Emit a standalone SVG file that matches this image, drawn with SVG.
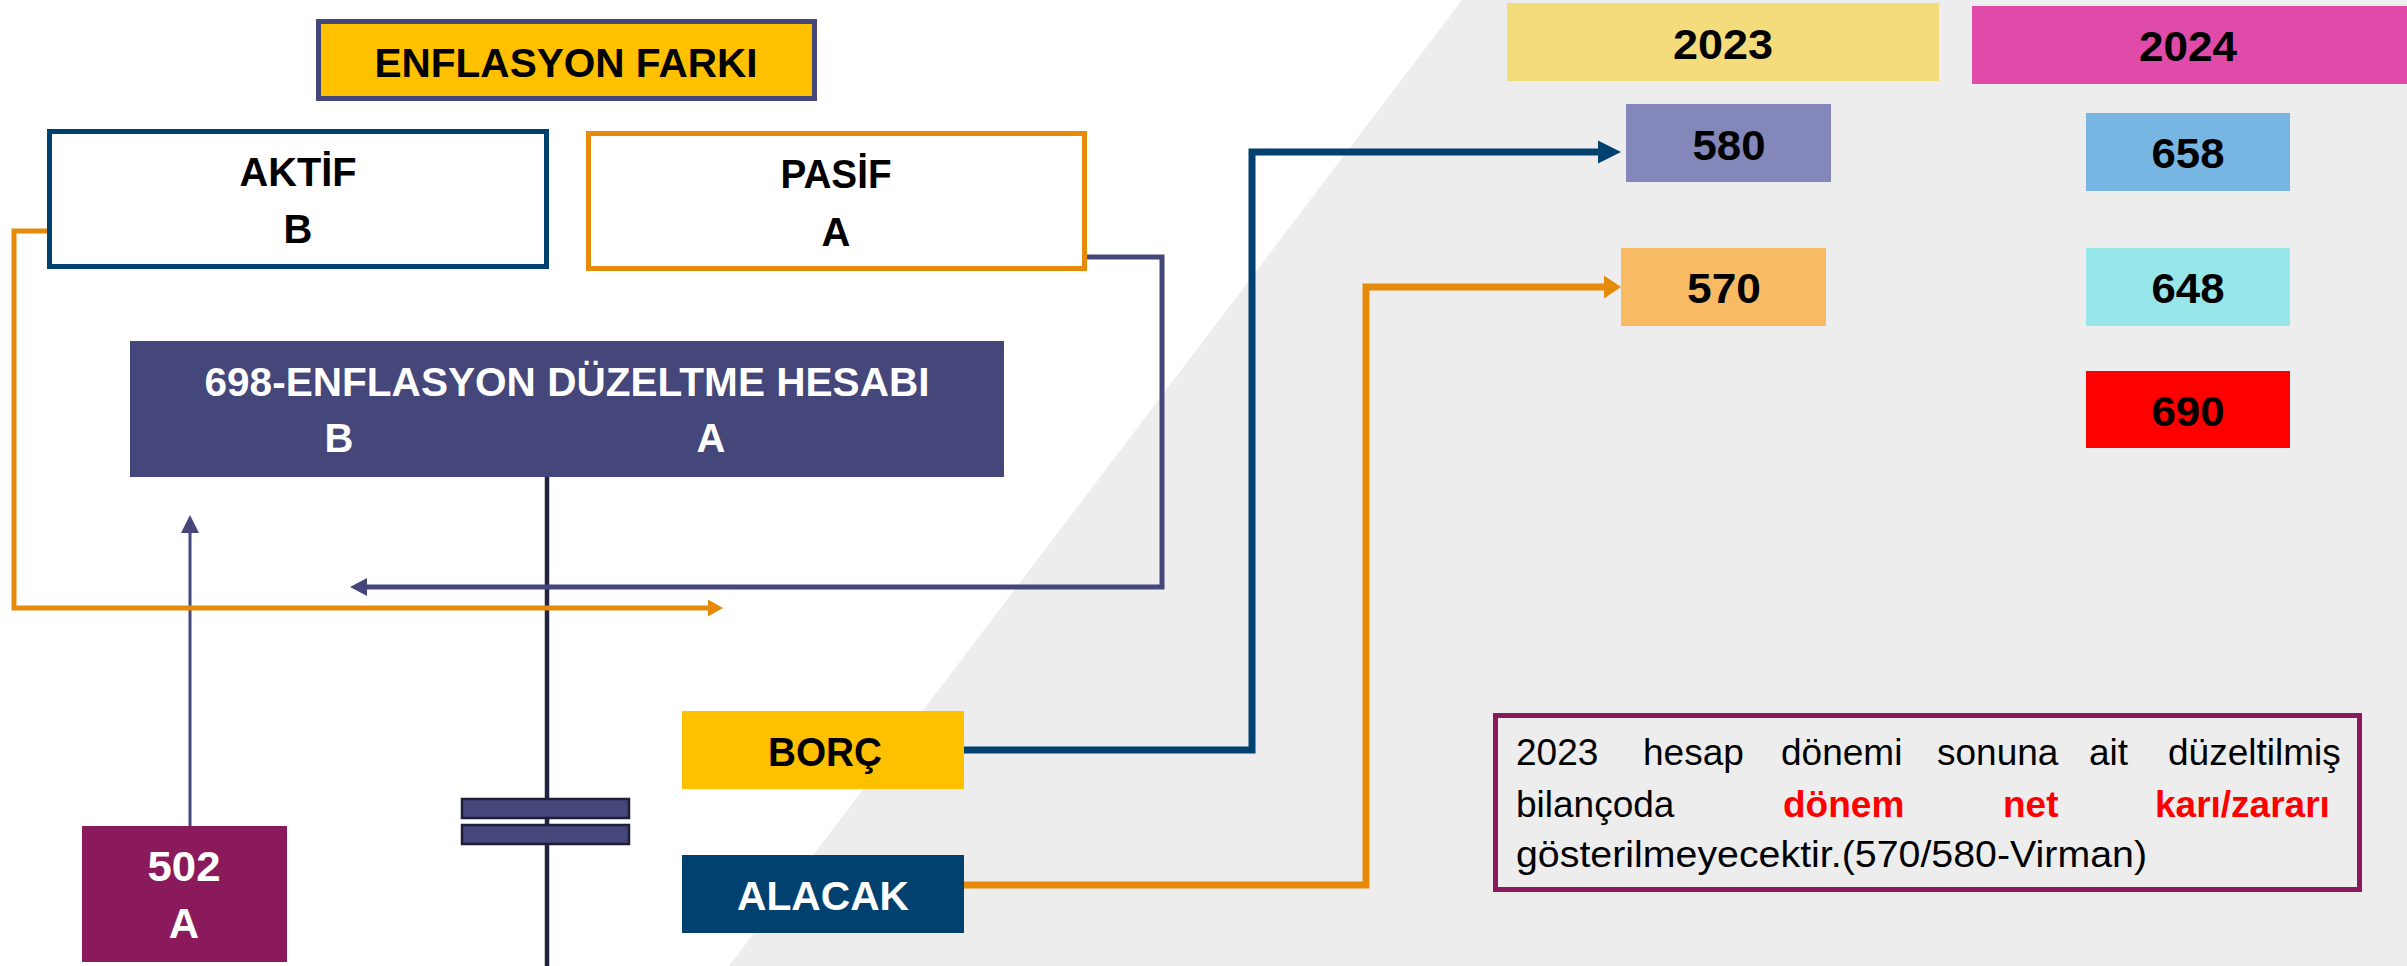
<svg xmlns="http://www.w3.org/2000/svg" width="2407" height="966" viewBox="0 0 2407 966">
<defs>
<style>
.lbl{font-family:"Liberation Sans",Arial,sans-serif;font-weight:bold;text-anchor:middle}
.blk{fill:#000}
.wht{fill:#fff}
.para{font-family:"Liberation Sans",Arial,sans-serif;font-size:37px;fill:#000}
.red{fill:#ff0000;font-weight:bold}
.conn{fill:none;stroke-linejoin:miter;stroke-linecap:butt}
</style>
<marker id="mBlue" markerUnits="userSpaceOnUse" markerWidth="23" markerHeight="23" refX="0" refY="11.5" orient="auto" overflow="visible"><path d="M0,0 L23,11.5 L0,23 z" fill="#004170"/></marker>
<marker id="mOrR" markerUnits="userSpaceOnUse" markerWidth="17" markerHeight="23" refX="0" refY="11.5" orient="auto" overflow="visible"><path d="M0,0 L17,11.5 L0,23 z" fill="#E68A0A"/></marker>
<marker id="mOrL" markerUnits="userSpaceOnUse" markerWidth="15" markerHeight="17" refX="0" refY="8.5" orient="auto" overflow="visible"><path d="M0,0 L15,8.5 L0,17 z" fill="#E68A0A"/></marker>
<marker id="mPur" markerUnits="userSpaceOnUse" markerWidth="17" markerHeight="18" refX="0" refY="9" orient="auto" overflow="visible"><path d="M0,0 L17,9 L0,18 z" fill="#45467A"/></marker>
<marker id="mPurS" markerUnits="userSpaceOnUse" markerWidth="18" markerHeight="18" refX="0" refY="9" orient="auto" overflow="visible"><path d="M0,0 L18,9 L0,18 z" fill="#45467A"/></marker>
</defs>
<rect width="2407" height="966" fill="#ffffff"/>
<polygon points="1462,0 2407,0 2407,966 729,966" fill="#ededed"/>

<g id="connectors">
<path class="conn" d="M190,826 V533" stroke="#45467A" stroke-width="3" marker-end="url(#mPurS)"/>
<path class="conn" d="M964,750 H1252 V152 H1598" stroke="#004170" stroke-width="7" marker-end="url(#mBlue)"/>
<path class="conn" d="M964,885 H1366 V287 H1604" stroke="#E68A0A" stroke-width="7" marker-end="url(#mOrR)"/>
</g>

<g id="t-account">
<line x1="547" y1="477" x2="547" y2="966" stroke="#23233F" stroke-width="4.5"/>
<rect x="462" y="799" width="167" height="19" fill="#45467A" stroke="#1E1E3A" stroke-width="2.5"/>
<rect x="462" y="825" width="167" height="19" fill="#45467A" stroke="#1E1E3A" stroke-width="2.5"/>
</g>

<g id="connectors-ledger">
<path class="conn" d="M1087,257 H1162 V587 H367" stroke="#45467A" stroke-width="5" marker-end="url(#mPur)"/>
<path class="conn" d="M47,231 H14 V608 H708" stroke="#E68A0A" stroke-width="5" marker-end="url(#mOrL)"/>
</g>

<g id="enflasyon-farki">
<rect x="318.5" y="21.5" width="496" height="77" fill="#FFC000" stroke="#45467A" stroke-width="5"/>
<text class="lbl blk" x="566" y="77" font-size="40" textLength="383" lengthAdjust="spacingAndGlyphs">ENFLASYON FARKI</text>
</g>

<g id="aktif">
<rect x="49.5" y="131.5" width="497" height="135" fill="#ffffff" stroke="#00426F" stroke-width="5"/>
<text class="lbl blk" x="298" y="186" font-size="40" textLength="117" lengthAdjust="spacingAndGlyphs">AKTİF</text>
<text class="lbl blk" x="298" y="243" font-size="40">B</text>
</g>

<g id="pasif">
<rect x="588.5" y="133.5" width="496" height="135" fill="#ffffff" stroke="#E68A0A" stroke-width="5"/>
<text class="lbl blk" x="836" y="188" font-size="40" textLength="111" lengthAdjust="spacingAndGlyphs">PASİF</text>
<text class="lbl blk" x="836" y="246" font-size="40">A</text>
</g>

<g id="hesap-698">
<rect x="130" y="341" width="874" height="136" fill="#45467A"/>
<text class="lbl wht" x="567" y="396" font-size="40" textLength="725" lengthAdjust="spacingAndGlyphs">698-ENFLASYON DÜZELTME HESABI</text>
<text class="lbl wht" x="339" y="452" font-size="40">B</text>
<text class="lbl wht" x="711" y="452" font-size="40">A</text>
</g>

<g id="hesap-502">
<rect x="82" y="826" width="205" height="136" fill="#8B1A5C"/>
<text class="lbl wht" x="184" y="881" font-size="42" textLength="73" lengthAdjust="spacingAndGlyphs">502</text>
<text class="lbl wht" x="184" y="938" font-size="42">A</text>
</g>

<g id="borc">
<rect x="682" y="711" width="282" height="78" fill="#FFC000"/>
<text class="lbl blk" x="825" y="766" font-size="40" textLength="114" lengthAdjust="spacingAndGlyphs">BORÇ</text>
</g>

<g id="alacak">
<rect x="682" y="855" width="282" height="78" fill="#004170"/>
<text class="lbl wht" x="823" y="910" font-size="40" textLength="172" lengthAdjust="spacingAndGlyphs">ALACAK</text>
</g>

<g id="yil-2023">
<rect x="1507" y="3" width="432" height="78" fill="#F4DC7C"/>
<text class="lbl blk" x="1723" y="59" font-size="42" textLength="100" lengthAdjust="spacingAndGlyphs">2023</text>
</g>

<g id="yil-2024">
<rect x="1972" y="6" width="435" height="78" fill="#E04AA8"/>
<text class="lbl blk" x="2188" y="61" font-size="42" textLength="98" lengthAdjust="spacingAndGlyphs">2024</text>
</g>

<g id="hesap-580">
<rect x="1626" y="104" width="205" height="78" fill="#8387BA"/>
<text class="lbl blk" x="1729" y="160" font-size="42" textLength="73" lengthAdjust="spacingAndGlyphs">580</text>
</g>

<g id="hesap-570">
<rect x="1621" y="248" width="205" height="78" fill="#F8BB64"/>
<text class="lbl blk" x="1724" y="303" font-size="42" textLength="74" lengthAdjust="spacingAndGlyphs">570</text>
</g>

<g id="hesap-658">
<rect x="2086" y="113" width="204" height="78" fill="#77B5E3"/>
<text class="lbl blk" x="2188" y="168" font-size="42" textLength="73" lengthAdjust="spacingAndGlyphs">658</text>
</g>

<g id="hesap-648">
<rect x="2086" y="248" width="204" height="78" fill="#96E6EA"/>
<text class="lbl blk" x="2188" y="303" font-size="42" textLength="73" lengthAdjust="spacingAndGlyphs">648</text>
</g>

<g id="hesap-690">
<rect x="2086" y="371" width="204" height="77" fill="#FF0000"/>
<text class="lbl blk" x="2188" y="426" font-size="42" textLength="73" lengthAdjust="spacingAndGlyphs">690</text>
</g>

<g id="not">
<rect x="1495.5" y="715.5" width="864" height="174" fill="none" stroke="#8B1A5C" stroke-width="5"/>
<text class="para" y="765"><tspan x="1516">2023</tspan><tspan x="1643">hesap</tspan><tspan x="1781">dönemi</tspan><tspan x="1937">sonuna</tspan><tspan x="2089">ait</tspan><tspan x="2168">düzeltilmiş</tspan></text>
<text class="para" y="817"><tspan x="1516">bilançoda</tspan><tspan class="red" x="1783">dönem</tspan><tspan class="red" x="2003">net</tspan><tspan class="red" x="2155">karı/zararı</tspan></text>
<text class="para" x="1516" y="867" textLength="631" lengthAdjust="spacingAndGlyphs">gösterilmeyecektir.(570/580-Virman)</text>
</g>
</svg>
